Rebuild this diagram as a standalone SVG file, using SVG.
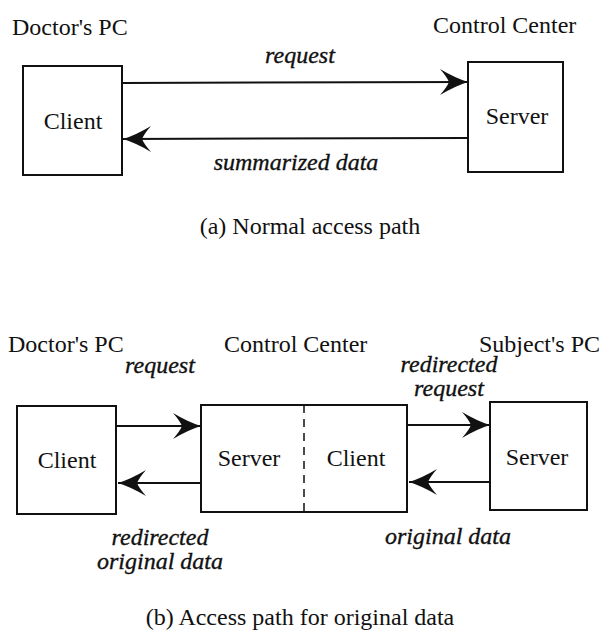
<svg xmlns="http://www.w3.org/2000/svg" width="602" height="642" viewBox="0 0 602 642">
  <style>
    .lbl { font-family: "Liberation Serif", "Times New Roman", serif; font-size: 24px; fill: #111; }
    .it { font-family: "Liberation Serif", "Times New Roman", serif; font-size: 24px; font-style: italic; fill: #111; stroke: #111; stroke-width: 0.35; }
    .box { fill: #fff; stroke: #111; stroke-width: 2; }
    .wire { fill: none; stroke: #111; stroke-width: 2; }
    .dash { fill: none; stroke: #111; stroke-width: 1.5; stroke-dasharray: 8 6; }
  </style>
  <defs>
    <marker id="barb" markerUnits="userSpaceOnUse" viewBox="-30 -15 32 30" refX="0" refY="0" markerWidth="32" markerHeight="30" orient="auto">
      <path d="M0,0 Q-13,-4 -28,-13 Q-21,-5 -19,0 Q-21,5 -28,13 Q-13,4 0,0 Z" fill="#111"/>
    </marker>
  </defs>
  <rect width="602" height="642" fill="#fff"/>

  <!-- (a) normal access path -->
  <text class="lbl" x="12" y="35">Doctor's PC</text>
  <text class="lbl" x="433" y="33">Control Center</text>

  <g id="a-client">
    <rect class="box" x="23" y="66" width="99" height="109"/>
    <text class="lbl" x="73" y="129" text-anchor="middle">Client</text>
  </g>
  <g id="a-server">
    <rect class="box" x="468" y="62" width="95" height="110"/>
    <text class="lbl" x="517" y="124" text-anchor="middle">Server</text>
  </g>

  <g id="a-connectors">
    <line class="wire" x1="122" y1="83" x2="468" y2="82" marker-end="url(#barb)"/>
    <line class="wire" x1="468" y1="138" x2="123" y2="139" marker-end="url(#barb)"/>
    <text class="it" x="300" y="63" text-anchor="middle">request</text>
    <text class="it" x="296" y="170" text-anchor="middle">summarized data</text>
  </g>

  <text class="lbl" x="310" y="234" text-anchor="middle">(a) Normal access path</text>

  <!-- (b) access path for original data -->
  <text class="lbl" x="8" y="352">Doctor's PC</text>
  <text class="lbl" x="224" y="352">Control Center</text>
  <text class="lbl" x="479" y="352">Subject's PC</text>

  <g id="b-client">
    <rect class="box" x="17" y="406" width="99" height="108"/>
    <text class="lbl" x="67" y="468" text-anchor="middle">Client</text>
  </g>
  <g id="b-center">
    <rect class="box" x="201" y="405" width="206" height="107"/>
    <line class="dash" x1="304" y1="405" x2="304" y2="512"/>
    <text class="lbl" x="249" y="466" text-anchor="middle">Server</text>
    <text class="lbl" x="356" y="466" text-anchor="middle">Client</text>
  </g>
  <g id="b-server">
    <rect class="box" x="490" y="402" width="97" height="108"/>
    <text class="lbl" x="537" y="465" text-anchor="middle">Server</text>
  </g>

  <g id="b-connectors">
    <line class="wire" x1="116" y1="426" x2="201" y2="426" marker-end="url(#barb)"/>
    <line class="wire" x1="201" y1="483" x2="118" y2="483" marker-end="url(#barb)"/>
    <line class="wire" x1="407" y1="425" x2="490" y2="425" marker-end="url(#barb)"/>
    <line class="wire" x1="490" y1="482" x2="409" y2="482" marker-end="url(#barb)"/>
    <text class="it" x="160" y="373" text-anchor="middle">request</text>
    <text class="it" x="449" y="372" text-anchor="middle">redirected</text>
    <text class="it" x="449" y="396" text-anchor="middle">request</text>
    <text class="it" x="160" y="545" text-anchor="middle">redirected</text>
    <text class="it" x="160" y="569" text-anchor="middle">original data</text>
    <text class="it" x="448" y="544" text-anchor="middle">original data</text>
  </g>

  <text class="lbl" x="300" y="625" text-anchor="middle">(b) Access path for original data</text>
</svg>
